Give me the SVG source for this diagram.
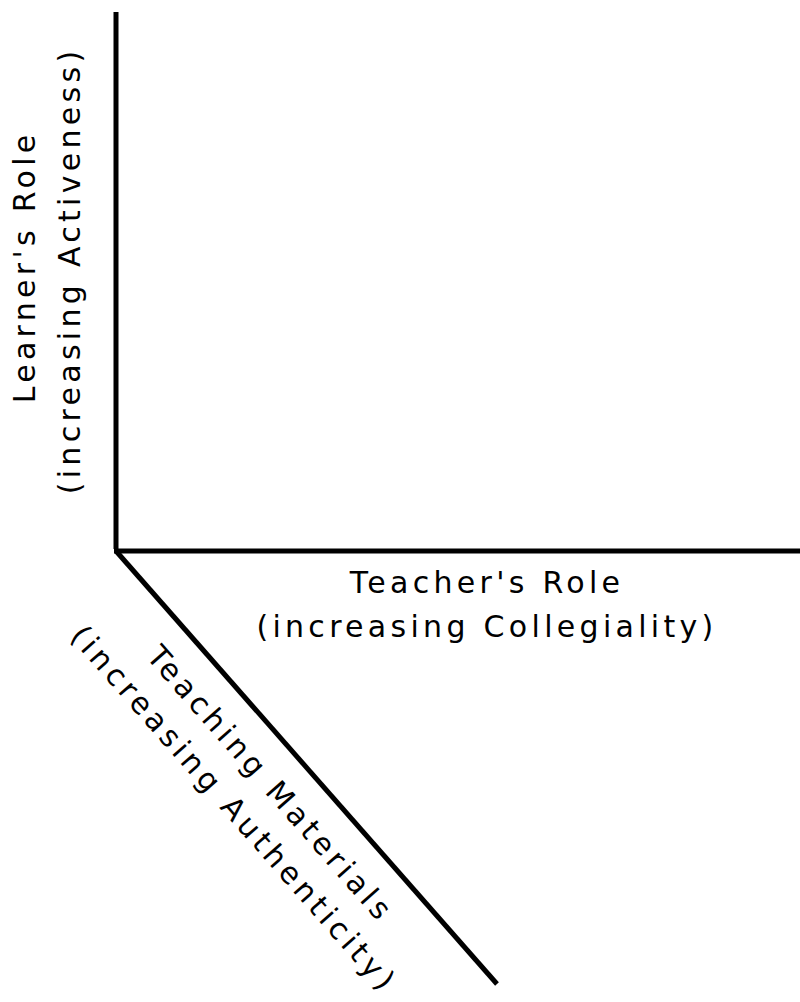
<svg xmlns="http://www.w3.org/2000/svg" width="800" height="1002" viewBox="0 0 800 1002">
  <style>
    .axis { stroke: #000; stroke-width: 5; fill: none; stroke-linecap: butt; }
    .lbl { font-family: "DejaVu Sans", Verdana, sans-serif; font-size: 30px; letter-spacing: 4.3px; fill: #000; text-anchor: middle; }
  </style>
  <rect width="800" height="1002" fill="#fff"/>
  <g id="connectors">
    <line class="axis" x1="116" y1="12" x2="116" y2="549"/>
    <line class="axis" x1="114" y1="551" x2="800" y2="551"/>
    <line class="axis" x1="116" y1="551" x2="497" y2="984"/>
  </g>
  <g id="learner-axis-label">
    <text class="lbl" transform="translate(35,269) rotate(-90)" x="2.1" y="0">Learner's Role</text>
    <text class="lbl" transform="translate(80,272.5) rotate(-90)" x="2.1" y="0">(increasing Activeness)</text>
  </g>
  <g id="teacher-axis-label">
    <text class="lbl" x="487" y="593">Teacher's Role</text>
    <text class="lbl" x="487" y="637">(increasing Collegiality)</text>
  </g>
  <g id="materials-axis-label" transform="translate(116,551) rotate(48.7)">
    <text class="lbl" x="277" y="48">Teaching Materials</text>
    <text class="lbl" x="272" y="92">(increasing Authenticity)</text>
  </g>
</svg>
